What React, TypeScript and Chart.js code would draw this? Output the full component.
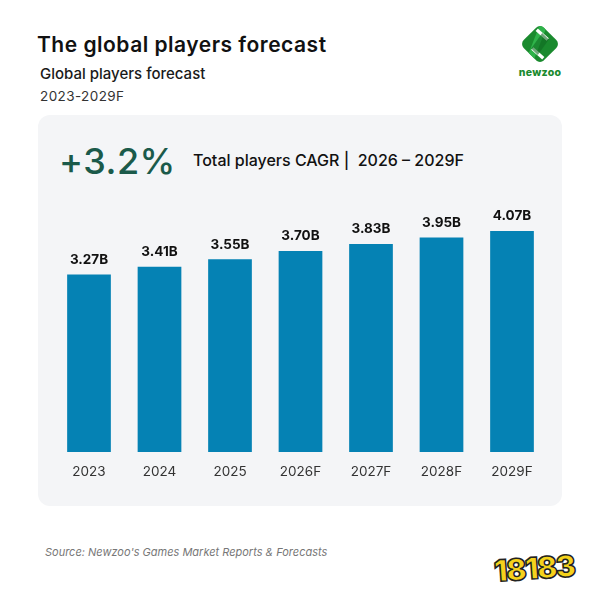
import React, { useEffect, useRef } from "react";
import { Chart, registerables } from "chart.js";

Chart.register(...registerables);

const categories = ["2023", "2024", "2025", "2026F", "2027F", "2028F", "2029F"];
const players = [3.27, 3.41, 3.55, 3.7, 3.83, 3.95, 4.07];
const valueLabels = ["3.27B", "3.41B", "3.55B", "3.70B", "3.83B", "3.95B", "4.07B"];

const FONT = "Inter, 'Open Sans', sans-serif";

const labelPlugin = {
  id: "barLabels",
  afterDatasetsDraw(chart: any) {
    const ctx = chart.ctx;
    const meta = chart.getDatasetMeta(0);
    ctx.save();
    ctx.font = `700 13.5px ${FONT}`;
    ctx.fillStyle = "#111111";
    ctx.textAlign = "center";
    ctx.textBaseline = "bottom";
    meta.data.forEach((bar: any, i: number) => {
      ctx.fillText(valueLabels[i], bar.x, bar.y - 8);
    });
    ctx.restore();
  },
};

function BarChart() {
  const ref = useRef<HTMLCanvasElement | null>(null);
  useEffect(() => {
    if (!ref.current) return;
    const chart = new Chart(ref.current, {
      type: "bar",
      data: {
        labels: categories,
        datasets: [
          {
            data: players,
            backgroundColor: "#0582b4",
            borderWidth: 0,
            barPercentage: 0.62,
            categoryPercentage: 1,
          },
        ],
      },
      options: {
        animation: false,
        responsive: false,
        maintainAspectRatio: false,
        layout: { padding: { left: 15.75, right: 14.75, top: 12.6, bottom: 0 } },
        plugins: { legend: { display: false }, tooltip: { enabled: false } },
        scales: {
          x: {
            grid: { display: false },
            border: { display: false },
            ticks: {
              color: "#333333",
              padding: 4,
              font: { family: FONT, size: 13.5 },
            },
            afterFit: (s: any) => {
              s.height = 43;
            },
          },
          y: {
            display: false,
            min: 0,
            max: 4.5,
          },
        },
      },
      plugins: [labelPlugin],
    });
    return () => chart.destroy();
  }, []);
  return (
    <canvas
      ref={ref}
      width={524}
      height={300}
      style={{ position: "absolute", left: 0, top: 80, width: 524, height: 300 }}
    />
  );
}

function NewzooLogo() {
  return (
    <div style={{ position: "absolute", left: 510, top: 22, width: 60, textAlign: "center" }}>
      <svg width="44" height="44" viewBox="0 0 40 40" style={{ display: "block", margin: "0 auto" }}>
        <defs>
          <clipPath id="dia">
            <rect x="7" y="7" width="26" height="26" rx="5" transform="rotate(45 20 20)" />
          </clipPath>
        </defs>
        <rect x="7" y="7" width="26" height="26" rx="5" transform="rotate(45 20 20)" fill="#1a8a2e" />
        <g clipPath="url(#dia)">
          <polygon points="20,2 27,2 13,38 6,38" fill="#2fb34a" />
          <line x1="17" y1="7" x2="27" y2="16" stroke="#ffffff" strokeWidth="3" />
          <line x1="13" y1="24" x2="23" y2="33" stroke="#ffffff" strokeWidth="3" />
          <polygon points="22,10 28,16 18,30 12,24" fill="#0f6b22" opacity="0.6" />
        </g>
      </svg>
      <div style={{ font: `800 10.5px ${FONT}`, color: "#1a8a2e", marginTop: 0, letterSpacing: 0.3 }}>newzoo</div>
    </div>
  );
}

export default function App() {
  return (
    <div
      style={{
        position: "relative",
        width: 600,
        height: 600,
        margin: -8,
        background: "#ffffff",
        overflow: "hidden",
        fontFamily: FONT,
      }}
    >
      <div style={{ position: "absolute", left: 37, top: 32, font: `600 21px ${FONT}`, color: "#111111", letterSpacing: 0.5 }}>
        The global players forecast
      </div>
      <div style={{ position: "absolute", left: 40, top: 64, font: `500 15px ${FONT}`, color: "#1a1a1a" }}>
        Global players forecast
      </div>
      <div style={{ position: "absolute", left: 40, top: 88, font: `400 13.5px ${FONT}`, color: "#333333", letterSpacing: 0.4 }}>
        2023-2029F
      </div>
      <NewzooLogo />
      <div
        style={{
          position: "absolute",
          left: 38,
          top: 115,
          width: 524,
          height: 391,
          background: "#f4f5f7",
          borderRadius: 12,
        }}
      >
        <div style={{ position: "absolute", left: 21, top: 24, font: `500 36px ${FONT}`, color: "#1b5a4a", letterSpacing: 0.5 }}>
          +3.2%
        </div>
        <div style={{ position: "absolute", left: 155, top: 35, font: `500 16px ${FONT}`, color: "#111111" }}>
          Total players CAGR |&nbsp; 2026 – 2029F
        </div>
        <BarChart />
      </div>
      <div style={{ position: "absolute", left: 45, top: 545, font: `italic 400 11px ${FONT}`, color: "#777777" }}>
        Source: Newzoo's Games Market Reports &amp; Forecasts
      </div>
      <div
        style={{
          position: "absolute",
          left: 494,
          top: 550,
          font: `900 30px ${FONT}`,
          color: "#f5d21c",
          WebkitTextStroke: "1.5px #222222",
          letterSpacing: -1.5,
          transform: "rotate(-4deg)",
        }}
      >
        18183
      </div>
    </div>
  );
}
